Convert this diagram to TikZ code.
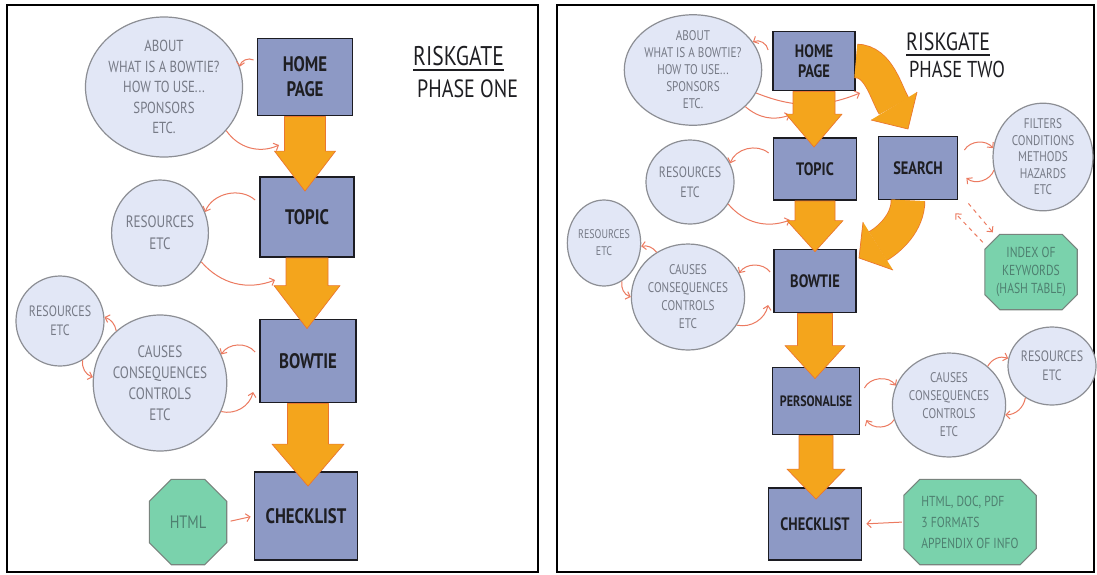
\documentclass[tikz,border=0pt]{standalone}
\usepackage{fontspec}
\setmainfont{PT Sans}
\newfontfamily\hand[FakeStretch=0.8]{PT Sans}
\usetikzlibrary{shapes.geometric,arrows.meta,calc}

\definecolor{boxfill}{RGB}{141,153,197}
\definecolor{boxedge}{RGB}{28,28,34}
\definecolor{bubblefill}{RGB}{226,231,246}
\definecolor{bubbleedge}{RGB}{140,142,148}
\definecolor{bubbletext}{RGB}{118,122,134}
\definecolor{greenfill}{RGB}{122,210,172}
\definecolor{greenedge}{RGB}{120,132,126}
\definecolor{greentext}{RGB}{78,128,112}
\definecolor{flowfill}{RGB}{244,165,28}
\definecolor{flowedge}{RGB}{234,118,48}
\definecolor{linkcol}{RGB}{236,122,96}
\definecolor{ink}{RGB}{30,30,34}

\newcommand\handsz[2]{\fontsize{#1}{#2}\selectfont}

% straight block arrow from the bottom of one screen into the top of the next
% #1 from, #2 to, #3 shaft half-width, #4 head half-width, #5 head length, #6 overlap into target
\newcommand\flowdown[6]{%
  \filldraw[flow] let \p1=(#1.south), \p2=(#2.north) in
    (\x1-#3,\y1) -- (\x1-#3,\y2-#6+#5) -- (\x1-#4,\y2-#6+#5) -- (\x1,\y2-#6)
    -- (\x1+#4,\y2-#6+#5) -- (\x1+#3,\y2-#6+#5) -- (\x1+#3,\y1) -- cycle;}

% green octagon drawn round a placeholder node
\newcommand\octagonat[2]{%
  \draw[octoframe] ($(#1.north west)+(#2,0)$) -- ($(#1.north east)+(-#2,0)$)
    -- ($(#1.north east)+(0,#2)$) -- ($(#1.south east)+(0,-#2)$)
    -- ($(#1.south east)+(-#2,0)$) -- ($(#1.south west)+(#2,0)$)
    -- ($(#1.south west)+(0,-#2)$) -- ($(#1.north west)+(0,#2)$) -- cycle;}

\tikzset{
  panel/.style={draw=black, line width=1.8pt},
  screen/.style={rectangle, fill=boxfill, draw=boxedge, line width=1.8pt,
    inner sep=0pt, align=center, text=ink},
  bubble/.style={ellipse, fill=bubblefill, draw=bubbleedge, line width=1.2pt,
    inner sep=0pt, align=center, text=bubbletext},
  holder/.style={rectangle, inner sep=0pt},
  octoframe/.style={fill=greenfill, draw=greenedge, line width=1.1pt},
  octotext/.style={align=center, text=greentext, inner sep=0pt},
  link/.style={draw=linkcol, line width=1pt, -{Straight Barb[length=4pt,width=8pt]}},
  dlink/.style={link, dash pattern=on 4pt off 4pt},
  flow/.style={fill=flowfill, draw=flowedge, line width=0.7pt, line join=round},
  title/.style={anchor=base west, inner sep=0pt, text=ink},
  bigL/.style={font=\hand\bfseries\handsz{21}{25}},
  bigR/.style={font=\hand\bfseries\handsz{18}{20}},
}

\begin{document}
\begin{tikzpicture}[x=1pt,y=-1pt]
\useasboundingbox (0,0) rectangle (1097,574);
\fill[white] (0,0) rectangle (1097,574);

% two panels
\draw[panel] (7,5) rectangle (538,572);
\draw[panel] (557,5) rectangle (1094,572);

%% ---------------- phase one ----------------
\node[screen, bigL, minimum width=95pt, minimum height=77pt] (L-home) at (305,77) {HOME\\PAGE};
\node[screen, bigL, minimum width=94pt, minimum height=80pt] (L-topic) at (307,217) {TOPIC};
\node[screen, bigL, minimum width=96pt, minimum height=83pt] (L-bowtie) at (308,361) {BOWTIE};
\node[screen, bigL, minimum width=103pt, minimum height=88pt] (L-check) at (306,516) {CHECKLIST};

\node[bubble, minimum width=132pt, minimum height=140pt, font=\hand\handsz{16}{20.5}]
  (L-about) at (164,87) {ABOUT\\WHAT IS A BOWTIE?\\HOW TO USE...\\SPONSORS\\ETC.};
\node[bubble, minimum width=96pt, minimum height=106pt, font=\hand\handsz{16.5}{22}]
  (L-res1) at (160,233) {RESOURCES\\ETC};
\node[bubble, minimum width=88pt, minimum height=90pt, font=\hand\handsz{15}{19}]
  (L-res2) at (60,321) {RESOURCES\\ETC};
\node[bubble, minimum width=116pt, minimum height=136pt, font=\hand\handsz{16.5}{21}]
  (L-causes) at (160,383) {CAUSES\\CONSEQUENCES\\CONTROLS\\ETC};

\node[holder, minimum width=77pt, minimum height=85pt] (L-html) at (188,522) {};
\octagonat{L-html}{22}
\node[octotext, font=\hand\handsz{18}{20}] (L-html-text) at (L-html) {HTML};

\coordinate (L-a1) at (279,145);
\coordinate (L-a2) at (275,280);
\draw[link] ([xshift=-3pt,yshift=17pt]L-home.west) to[bend right=55] (L-about.15);
\draw[link] (L-about.-35) to[bend right=40] (L-a1);
\draw[link] ([xshift=-4pt,yshift=17pt]L-topic.west) to[bend right=55] (L-res1.25);
\draw[link] (L-res1.-35) to[bend right=35] (L-a2);
\draw[link] ([xshift=-4pt,yshift=9pt]L-bowtie.west) to[bend right=55] (L-causes.25);
\draw[link] (L-causes.-25) to[bend right=45] ([xshift=-6pt,yshift=-31pt]L-bowtie.west);
\draw[link] (L-causes.130) to[bend right=30] (L-res2.5);
\draw[link] (L-res2.-60) to[bend right=40] (L-causes.175);
\draw[link, shorten <=4pt, shorten >=3pt] (L-html.east) -- (L-check.west);

\flowdown{L-home}{L-topic}{20.5pt}{30.5pt}{40pt}{15pt}
\flowdown{L-topic}{L-bowtie}{21pt}{33pt}{43pt}{10pt}
\flowdown{L-bowtie}{L-check}{20.5pt}{36pt}{42pt}{15pt}

\node[title, font=\hand\handsz{27}{27}] (L-title) at (413,65) {RISKGATE};
\draw[ink, line width=1.4pt] ([yshift=-5pt]L-title.base west) -- ([yshift=-5pt]L-title.base east);
\node[title, font=\hand\handsz{25}{25}] (L-phase) at (417,97) {PHASE ONE};

%% ---------------- phase two ----------------
\node[screen, bigR, minimum width=82pt, minimum height=59pt] (R-home) at (814,61) {HOME\\PAGE};
\node[screen, bigR, minimum width=83pt, minimum height=62pt] (R-topic) at (815,169) {TOPIC};
\node[screen, bigR, minimum width=79pt, minimum height=63pt] (R-search) at (918,168) {SEARCH};
\node[screen, bigR, minimum width=82pt, minimum height=63pt] (R-bowtie) at (815,281) {BOWTIE};
\node[screen, font=\hand\bfseries\handsz{15}{18}, minimum width=87pt, minimum height=67pt] (R-pers) at (816,401) {PERSONALISE};
\node[screen, bigR, minimum width=93pt, minimum height=72pt] (R-check) at (815,524) {CHECKLIST};

\node[bubble, minimum width=114pt, minimum height=110pt, font=\hand\handsz{14}{17}]
  (R-about) at (693,70) {ABOUT\\WHAT IS A BOWTIE?\\HOW TO USE...\\SPONSORS\\ETC.};
\node[bubble, minimum width=84pt, minimum height=84pt, font=\hand\handsz{15}{20}]
  (R-res1) at (690,182) {RESOURCES\\ETC};
\node[bubble, minimum width=70pt, minimum height=86pt, font=\hand\handsz{12.5}{17}]
  (R-res2) at (604,243) {RESOURCES\\ETC};
\node[bubble, minimum width=102pt, minimum height=106pt, font=\hand\handsz{14}{18}]
  (R-causes1) at (688,297) {CAUSES\\CONSEQUENCES\\CONTROLS\\ETC};
\node[bubble, minimum width=100pt, minimum height=106pt, font=\hand\handsz{14}{16.5}]
  (R-filters) at (1043,157) {FILTERS\\CONDITIONS\\METHODS\\HAZARDS\\ETC};
\node[bubble, minimum width=104pt, minimum height=104pt, font=\hand\handsz{14}{18}]
  (R-causes2) at (949,405) {CAUSES\\CONSEQUENCES\\CONTROLS\\ETC};
\node[bubble, minimum width=82pt, minimum height=78pt, font=\hand\handsz{15}{19}]
  (R-res3) at (1052,366) {RESOURCES\\ETC};

\node[holder, minimum width=92pt, minimum height=75pt] (R-index) at (1031,272) {};
\octagonat{R-index}{15}
\node[octotext, font=\hand\handsz{14.5}{18}] (R-index-text) at (R-index) {INDEX OF\\KEYWORDS\\(HASH TABLE)};

\node[holder, minimum width=132pt, minimum height=85pt] (R-formats) at (970,522) {};
\octagonat{R-formats}{16}
\node[octotext, align=left, font=\hand\handsz{14.5}{21}] (R-formats-text) at (R-formats) {HTML, DOC, PDF\\3 FORMATS\\APPENDIX OF INFO};

\coordinate (R-a1) at (860,93);
\coordinate (R-a2) at (790,115);
\coordinate (R-a3) at (790,220);
\draw[link] ([xshift=-4pt,yshift=11pt]R-home.west) to[bend right=55] (R-about.25);
\draw[link] (R-about.-20) to[bend right=22] (R-a1);
\draw[link] (R-about.-35) to[bend right=30] (R-a2);
\draw[link] ([xshift=-4pt,yshift=16pt]R-topic.west) to[bend right=55] (R-res1.25);
\draw[link] (R-res1.-30) to[bend right=35] (R-a3);
\draw[link] ([xshift=-3pt,yshift=9pt]R-bowtie.west) to[bend right=55] (R-causes1.25);
\draw[link] (R-causes1.-30) to[bend right=45] ([xshift=-5pt,yshift=-24pt]R-bowtie.west);
\draw[link] (R-causes1.125) to[bend right=30] (R-res2.-5);
\draw[link] (R-res2.-65) to[bend right=40] (R-causes1.180);
\draw[link] ([xshift=6pt,yshift=18pt]R-search.east) to[bend left=55] (R-filters.170);
\draw[link] (R-filters.195) to[bend left=55] ([xshift=8pt,yshift=-10pt]R-search.east);
\draw[dlink] ([xshift=-2pt,yshift=-8pt]R-index.north west) -- ([xshift=-3pt,yshift=-13pt]R-search.south east);
\draw[dlink] ([xshift=10pt,yshift=-3pt]R-search.south east) -- ([xshift=8pt,yshift=2pt]R-index.north west);
\draw[link] ([xshift=4pt,yshift=13pt]R-pers.east) to[bend left=60] (R-causes2.160);
\draw[link] (R-causes2.195) to[bend left=60] ([xshift=6pt,yshift=-19pt]R-pers.east);
\draw[link] (R-causes2.45) to[bend left=40] (R-res3.170);
\draw[link] (R-res3.230) to[bend left=40] (R-causes2.-10);
\draw[link, shorten <=2pt, shorten >=4pt] (R-formats.west) -- (R-check.east);

\flowdown{R-home}{R-topic}{21pt}{28pt}{33pt}{10pt}
\flowdown{R-topic}{R-bowtie}{20pt}{28pt}{31pt}{3pt}
\flowdown{R-bowtie}{R-pers}{17.5pt}{30pt}{33pt}{12pt}
\flowdown{R-pers}{R-check}{17pt}{29pt}{30pt}{12pt}

% curved flow: home page round to search
\coordinate (R-b1) at (894,106);
\draw[flowedge, line width=34.5pt] (R-home.east) .. controls ([xshift=23pt]R-home.east) and ($(R-b1)+(-8,-13)$) .. (R-b1);
\draw[flowfill, line width=33pt] (R-home.east) .. controls ([xshift=23pt]R-home.east) and ($(R-b1)+(-8,-13)$) .. (R-b1);
\fill[flowfill] ($(R-b1)+(23,-14)$) -- ($(R-b1)+(14,23)$) -- ($(R-b1)+(-23,14)$) -- cycle;
\draw[flowedge, line width=0.7pt, line join=round] ($(R-b1)+(23,-14)$) -- ($(R-b1)+(14,23)$) -- ($(R-b1)+(-23,14)$);

% curved flow: search round to bowtie
\coordinate (R-b2) at (878,246);
\draw[flowedge, line width=34.5pt] ([xshift=-10pt]R-search.south) .. controls ([xshift=-10pt,yshift=-22pt]R-search.south) and ($(R-b2)+(12,-7)$) .. (R-b2);
\draw[flowfill, line width=33pt] ([xshift=-10pt]R-search.south) .. controls ([xshift=-10pt,yshift=-22pt]R-search.south) and ($(R-b2)+(12,-7)$) .. (R-b2);
\fill[flowfill] ($(R-b2)+(15,24)$) -- ($(R-b2)+(-19,12)$) -- ($(R-b2)+(-15,-24)$) -- cycle;
\draw[flowedge, line width=0.7pt, line join=round] ($(R-b2)+(15,24)$) -- ($(R-b2)+(-19,12)$) -- ($(R-b2)+(-15,-24)$);

\node[title, font=\hand\handsz{25}{25}] (R-title) at (906,50) {RISKGATE};
\draw[ink, line width=1.4pt] ([yshift=-5pt]R-title.base west) -- ([yshift=-5pt]R-title.base east);
\node[title, font=\hand\handsz{23}{23}] (R-phase) at (909,77) {PHASE TWO};
\end{tikzpicture}
\end{document}
